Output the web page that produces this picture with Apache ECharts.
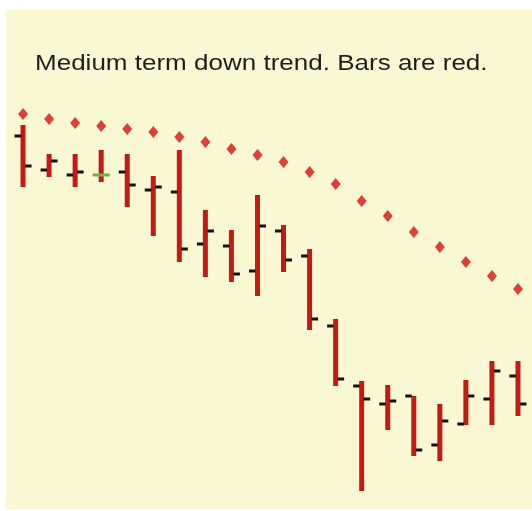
<!DOCTYPE html>
<html>
<head>
<meta charset="utf-8">
<script src="https://cdn.jsdelivr.net/npm/echarts@6/dist/echarts.min.js"></script>
<style>
html,body{margin:0;padding:0;background:#ffffff;}
#chart{position:absolute;left:0;top:0;width:532px;height:511px;}
</style>
</head>
<body>
<div id="chart"></div>
<script>
var titleText = 'Medium term down trend. Bars are red.';
var categories = ['1','2','3','4','5','6','7','8','9','10','11','12','13','14','15','16','17','18','19','20'];
var openValues  = [364,330,325,325,328,310,308,256,254,229,269,244,174,114, 96,104, 55, 76,101,124];
var highValues  = [375,346,346,350,346,324,350,290,270,305,275,251,181,119,115,104, 96,120,139,139];
var lowValues   = [313,323,313,318,293,264,238,223,218,204,228,170,114,  9, 70, 44, 39, 75, 75, 84];
var closeValues = [334,339,328,325,315,313,251,269,226,274,240,181,121,101, 99, 50, 79,104,129, 96];
var sarValues   = [386,381,377,374,371,368,363,358,351,345,338,328,316,299,284,268,253,238,224,211];

var ohlcData = categories.map(function (c, i) {
  return [i, openValues[i], highValues[i], lowValues[i], closeValues[i]];
});

var chart = echarts.init(document.getElementById('chart'), null, {renderer: 'canvas'});
chart.setOption({
  animation: false,
  backgroundColor: '#ffffff',
  graphic: [{
    type: 'rect', z: -10, silent: true,
    shape: {x: 6, y: 10, width: 526, height: 499},
    style: {fill: '#FAF8D2'}
  }, {
    type: 'text', silent: true, z: 10,
    x: 35, y: 53, scaleX: 1.21,
    style: {
      text: titleText,
      fontFamily: 'Liberation Sans, Arial, sans-serif',
      fontSize: 21.5,
      fill: '#1e1e1e',
      verticalAlign: 'top'
    }
  }],
  grid: {left: 10, right: 1, top: 100, bottom: 11},
  xAxis: {type: 'category', data: categories, boundaryGap: true, show: false},
  yAxis: {type: 'value', min: 0, max: 400, show: false},
  series: [{
    type: 'custom',
    data: ohlcData,
    encode: {x: 0, y: [1, 2, 3, 4]},
    renderItem: function (params, api) {
      var x = api.value(0);
      var pO = api.coord([x, api.value(1)]);
      var pH = api.coord([x, api.value(2)]);
      var pL = api.coord([x, api.value(3)]);
      var pC = api.coord([x, api.value(4)]);
      var doji = api.value(1) === api.value(4);
      var tickColor = doji ? '#5DB84A' : '#111111';
      var children = [
        {type: 'rect', shape: {x: pH[0] - 2.5, y: pH[1], width: 5, height: pL[1] - pH[1]}, style: {fill: '#C41A14'}},
        {type: 'rect', shape: {x: pO[0] - 8.5, y: pO[1] - 1.5, width: 6.5, height: 3}, style: {fill: tickColor}},
        {type: 'rect', shape: {x: pC[0] + 2, y: pC[1] - 1.5, width: 6.5, height: 3}, style: {fill: tickColor}}
      ];
      if (doji) {
        children.push({type: 'rect', shape: {x: pO[0] - 2.5, y: pO[1] - 1.5, width: 5, height: 3}, style: {fill: '#8aa83a'}, z2: 5});
      }
      return {type: 'group', children: children};
    }
  }, {
    type: 'scatter',
    data: sarValues.map(function (v, i) { return [i, v]; }),
    symbol: 'diamond',
    symbolSize: [10, 12],
    itemStyle: {color: '#D81010'}
  }]
});
</script>
</body>
</html>
